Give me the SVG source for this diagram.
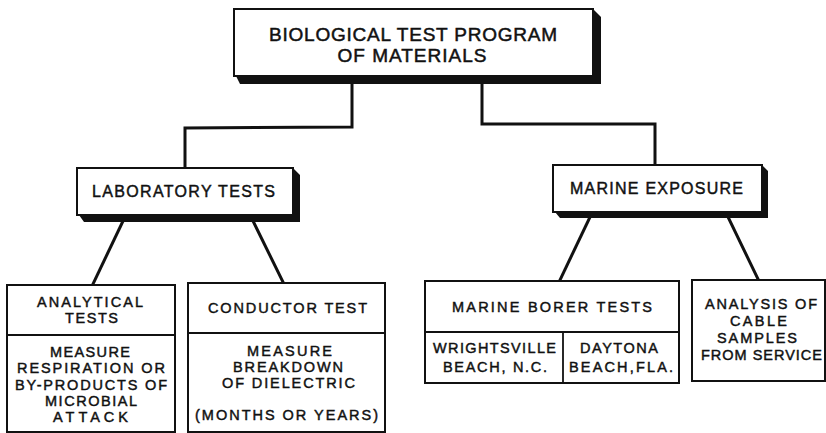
<svg xmlns="http://www.w3.org/2000/svg" width="826" height="433" viewBox="0 0 826 433">
<style>
.box{fill:#fff;stroke:#111;stroke-width:2}
.sh{fill:#111}
.ln{fill:none;stroke:#111;stroke-width:3;stroke-linecap:square}
.dv{fill:none;stroke:#111;stroke-width:1.8}
text{font-family:"Liberation Sans",Arial,sans-serif;fill:#111;stroke:#111;stroke-width:0.45;text-anchor:middle;font-size:14.5px}
.big{font-size:19px;stroke-width:0.5}
.mid{font-size:16px}
</style>
<rect width="826" height="433" fill="#fff"/>
<g id="connectors">
<polyline class="ln" points="352,78 352,127 185,128 185,167"/>
<polyline class="ln" points="482,78 482,124 655,124 655,163"/>
<line class="ln" x1="123" y1="221" x2="93" y2="284"/>
<line class="ln" x1="253" y1="221" x2="283" y2="282"/>
<line class="ln" x1="590" y1="217" x2="560" y2="280"/>
<line class="ln" x1="728" y1="217" x2="758" y2="279"/>
</g>
<g id="top">
<polygon class="sh" points="236,76 593,76 593,9 601,17 601,84 240,84"/>
<rect class="box" x="234" y="9" width="359" height="67"/>
<text class="big" x="413" y="41" textLength="288" lengthAdjust="spacing">BIOLOGICAL TEST  PROGRAM</text>
<text class="big" x="412" y="62" textLength="149" lengthAdjust="spacing">OF MATERIALS</text>
</g>
<g id="lab">
<polygon class="sh" points="79,215 293,215 293,168 300,175 300,222 84,222"/>
<rect class="box" x="77" y="168" width="216" height="47"/>
<text class="mid" x="183.5" y="197" textLength="183" lengthAdjust="spacing">LABORATORY  TESTS</text>
</g>
<g id="marine">
<polygon class="sh" points="555,212 762,212 762,165 768,171 768,218 560,218"/>
<rect class="box" x="553" y="165" width="209" height="47"/>
<text class="mid" x="656.5" y="194" textLength="173" lengthAdjust="spacing">MARINE  EXPOSURE</text>
</g>
<g id="analytical">
<rect class="box" x="7" y="285" width="168" height="147"/>
<line class="dv" x1="7" y1="335" x2="175" y2="335"/>
<text x="90" y="307" textLength="106" lengthAdjust="spacing">ANALYTICAL</text>
<text x="91.5" y="323" textLength="53" lengthAdjust="spacing">TESTS</text>
<text x="90" y="357" textLength="80" lengthAdjust="spacing">MEASURE</text>
<text x="91" y="373" textLength="148" lengthAdjust="spacing">RESPIRATION  OR</text>
<text x="91" y="390" textLength="152" lengthAdjust="spacing">BY-PRODUCTS  OF</text>
<text x="91" y="406" textLength="92" lengthAdjust="spacing">MICROBIAL</text>
<text x="90.5" y="422" textLength="75" lengthAdjust="spacing">ATTACK</text>
</g>
<g id="conductor">
<rect class="box" x="188" y="283" width="197" height="149"/>
<line class="dv" x1="188" y1="333" x2="385" y2="333"/>
<text x="287.5" y="313" textLength="159" lengthAdjust="spacing">CONDUCTOR  TEST</text>
<text x="289.5" y="356" textLength="85" lengthAdjust="spacing">MEASURE</text>
<text x="288" y="372" textLength="110" lengthAdjust="spacing">BREAKDOWN</text>
<text x="288.5" y="388" textLength="133" lengthAdjust="spacing">OF DIELECTRIC</text>
<text x="286.5" y="420" textLength="183" lengthAdjust="spacing">(MONTHS OR YEARS)</text>
</g>
<g id="borer">
<rect class="box" x="425" y="281" width="254" height="102"/>
<line class="dv" x1="425" y1="332" x2="679" y2="332"/>
<line class="dv" x1="563" y1="332" x2="563" y2="383"/>
<text x="552" y="312" textLength="200" lengthAdjust="spacing">MARINE BORER TESTS</text>
<text x="494.5" y="353" textLength="123" lengthAdjust="spacing">WRIGHTSVILLE</text>
<text x="495" y="372" textLength="104" lengthAdjust="spacing">BEACH, N.C.</text>
<text x="619" y="353" textLength="78" lengthAdjust="spacing">DAYTONA</text>
<text x="621" y="372" textLength="104" lengthAdjust="spacing">BEACH,FLA.</text>
</g>
<g id="analysis">
<rect class="box" x="692" y="280" width="133" height="101"/>
<text x="761" y="309" textLength="112" lengthAdjust="spacing">ANALYSIS OF</text>
<text x="758.5" y="326" textLength="57" lengthAdjust="spacing">CABLE</text>
<text x="757" y="343" textLength="80" lengthAdjust="spacing">SAMPLES</text>
<text x="761.5" y="360" textLength="121" lengthAdjust="spacing">FROM SERVICE</text>
</g>
</svg>
